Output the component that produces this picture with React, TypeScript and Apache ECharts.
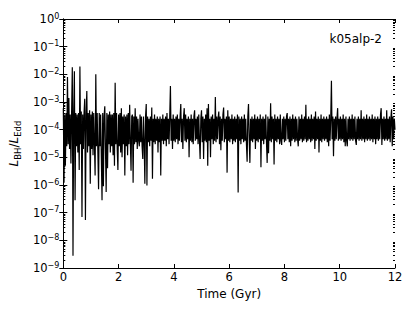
import React, { useEffect, useRef } from "react";
import * as echarts from "echarts";

// Sampling of the time series (Gyr)
const TIME_START_GYR = 0;
const TIME_STEP_GYR = 0.025;

// L_BH / L_Edd, one value every 0.025 Gyr
const RATIO_0_2 = [
  6e-4, 1.2e-6, 3.5e-4, 5e-6, 4e-4, 2.5e-5, 8e-3, 3e-5, 1.4e-3, 2e-5,
  3.5e-4, 6e-6, 4e-4, 1.8e-2, 2.8e-9, 3.5e-4, 1.3e-2, 2.8e-7, 4e-4, 2.5e-5,
  3.5e-4, 1.5e-5, 4e-4, 3.5e-6, 1.9e-2, 3e-5, 4.5e-4, 7e-8, 3.5e-4, 2e-5,
  4e-4, 1.3e-3, 5.4e-8, 3.5e-4, 2.5e-3, 1.5e-5, 4e-4, 2.5e-5, 5e-4, 1.1e-6,
  3.5e-4, 2e-5, 4.5e-4, 1.2e-5, 4e-4, 3e-5, 2.2e-6, 1e-2, 2.5e-5, 4e-4,
  1.5e-5, 7e-7, 4e-4, 2.5e-5, 3.5e-4, 1e-5, 2.8e-7, 4e-4, 9e-7, 3e-4,
  7e-4, 2e-5, 5.6e-7, 4e-4, 4e-6, 3.5e-4, 3e-5, 4.5e-4, 1.5e-5, 3.5e-4,
  2.5e-5, 3.5e-4, 1.2e-5, 4e-4, 5e-6, 5e-3, 3e-5, 4e-4, 2e-5, 3.5e-6,
];
const RATIO_2_4 = [
  3.5e-4, 2.5e-5, 4e-4, 1.5e-5, 6e-4, 1e-5, 3e-4, 3e-5, 3.5e-4, 2.2e-6,
  3e-4, 2.5e-5, 3.5e-4, 1.2e-5, 4e-4, 3e-5, 8e-4, 3.5e-5, 3.3e-6, 3e-4,
  3.5e-4, 1.2e-6, 3e-4, 3e-5, 6e-4, 3.5e-5, 3e-4, 2e-5, 2.5e-4, 4e-5,
  2.5e-5, 3.5e-4, 3.5e-5, 3e-4, 2.5e-5, 8.7e-6, 3e-4, 3.5e-5, 1.1e-6, 3e-4,
  8.5e-4, 9.5e-7, 3e-4, 3.5e-5, 2.5e-4, 2.5e-5, 3e-4, 4e-5, 6.3e-4, 1.7e-6,
  2.5e-4, 3.5e-5, 3.5e-4, 3e-5, 2.5e-4, 4e-5, 3e-4, 1.5e-5, 2.5e-4, 3.5e-5,
  3e-4, 2.2e-6, 2.5e-4, 4e-5, 3.5e-4, 3e-5, 2.5e-4, 4e-5, 3e-4, 2.5e-5,
  4e-4, 4.5e-5, 2.5e-4, 3e-5, 3e-4, 3.8e-3, 4e-5, 2.5e-4, 2e-5, 3.5e-4,
];
const RATIO_4_6 = [
  4e-5, 2.5e-4, 3.5e-5, 3e-4, 4.5e-5, 3.5e-4, 3e-5, 2.5e-4, 4e-5, 3e-4,
  8.5e-4, 3.5e-5, 2.5e-4, 2e-5, 3e-4, 6e-4, 4e-5, 3.5e-4, 3.5e-5, 2.5e-4,
  4.5e-5, 3e-4, 1e-5, 2.5e-4, 4e-5, 3.5e-4, 3.5e-5, 2.5e-4, 3e-5, 3e-4,
  5e-4, 4e-5, 2.5e-4, 4.5e-5, 3e-4, 3e-5, 3.5e-4, 4e-5, 8.7e-6, 2.5e-4,
  5e-4, 3.5e-5, 3e-4, 8.7e-6, 2.5e-4, 4e-5, 3.5e-4, 3.5e-5, 6e-4, 5e-6,
  8.5e-4, 4e-5, 2.5e-4, 1e-5, 3e-4, 4.5e-5, 3.5e-4, 3e-5, 2.5e-4, 4e-5,
  1.5e-3, 3.5e-5, 3e-4, 4.5e-5, 2.5e-4, 4.5e-4, 3e-5, 3e-4, 1.8e-5, 2.5e-4,
  4e-5, 3.5e-4, 6.3e-4, 3.5e-5, 2.5e-4, 4.5e-5, 3e-4, 2.8e-6, 5e-4, 4e-5,
];
const RATIO_6_8 = [
  3e-4, 3.5e-5, 2.5e-4, 4.5e-5, 3.5e-4, 3e-5, 2.5e-4, 4e-5, 3e-4, 3.5e-5,
  2.5e-4, 4.5e-5, 3.5e-4, 5.4e-7, 3e-4, 4e-5, 2.5e-4, 3e-5, 3e-4, 4.5e-5,
  2.5e-4, 3.5e-5, 3.5e-4, 4e-5, 2.5e-4, 3e-5, 7e-6, 3e-4, 8.5e-4, 4.5e-5,
  6.3e-6, 2.5e-4, 4e-5, 3e-4, 3.5e-5, 2.5e-4, 4.5e-5, 3.5e-4, 2e-5, 2.5e-4,
  4e-5, 3e-4, 3.5e-5, 2.5e-4, 4.5e-5, 3.5e-4, 4.4e-6, 2.5e-4, 4e-5, 3e-4,
  3e-5, 2.5e-4, 4.5e-5, 3.5e-4, 3.5e-5, 6.3e-6, 3e-4, 1.4e-5, 2.5e-4, 4e-5,
  9e-4, 3.5e-5, 3e-4, 4.5e-5, 2.5e-4, 5.5e-6, 3.5e-4, 4e-5, 2.5e-4, 3.5e-5,
  3e-4, 4.5e-5, 2.5e-4, 3e-5, 3.5e-4, 4e-5, 2.8e-5, 2.5e-4, 4.5e-5, 3e-4,
];
const RATIO_8_10 = [
  3.5e-5, 2.5e-4, 4e-5, 3e-4, 4e-4, 4.5e-5, 2.5e-4, 3.5e-5, 3e-4, 2.5e-5,
  2.5e-4, 4e-5, 3.5e-4, 4.5e-5, 2.5e-4, 3.5e-5, 3e-4, 4e-5, 2.5e-4, 4.5e-5,
  2.5e-5, 3e-4, 4e-5, 2.5e-4, 4.5e-5, 3.5e-4, 3.5e-5, 2.5e-4, 4e-5, 3e-4,
  4.5e-5, 8e-4, 3.5e-5, 2.5e-4, 4e-5, 3e-4, 4.5e-5, 2.5e-4, 3.5e-5, 3.5e-4,
  4e-5, 2.5e-4, 4.5e-5, 3e-4, 2e-5, 4.5e-4, 4e-5, 2.5e-4, 4.5e-5, 3e-4,
  1.5e-5, 2.5e-4, 4e-5, 3.5e-4, 3.5e-5, 2.5e-4, 4.5e-5, 3e-4, 4e-5, 2.5e-4,
  4.5e-5, 3e-4, 3.5e-5, 2.5e-4, 2.5e-5, 3.5e-4, 4e-5, 2.5e-4, 5.8e-3, 4.5e-5,
  3e-4, 1.1e-5, 2.5e-4, 4e-5, 3e-4, 4.5e-5, 2.5e-4, 6e-4, 4e-5, 2.5e-4,
];
const RATIO_10_12 = [
  4.5e-5, 3e-4, 4e-5, 2.5e-4, 4.5e-5, 3.5e-4, 3.5e-5, 2.5e-4, 2.5e-5, 3e-4,
  4e-5, 2.5e-5, 2.5e-4, 4.5e-5, 3e-4, 4e-5, 2.5e-4, 4.5e-5, 3.5e-4, 4e-5,
  2.5e-4, 4.5e-5, 3e-4, 4e-5, 2.8e-5, 2.5e-4, 4.5e-5, 3e-4, 4e-5, 2.5e-4,
  4.5e-5, 5e-4, 4e-5, 2.5e-4, 4.5e-5, 3e-4, 3.5e-5, 2.5e-4, 4.5e-5, 3.5e-4,
  4e-5, 2.5e-4, 4.5e-5, 3e-4, 4e-5, 2.5e-4, 4.5e-5, 3.5e-4, 3.5e-5, 2.5e-4,
  4.5e-5, 3e-4, 3e-5, 2.5e-4, 4.5e-5, 3e-4, 4e-5, 2.5e-4, 4.5e-5, 3.5e-4,
  6e-4, 2.8e-5, 2.5e-4, 4.5e-5, 3e-4, 4e-5, 2.5e-4, 4.5e-5, 5e-4, 4e-5,
  2.5e-4, 4.5e-5, 3e-4, 3.5e-5, 2.5e-4, 5.5e-4, 2.5e-5, 3e-4, 4.5e-5, 2.5e-4,
  1e-4,
];

const X_MIN = 0;
const X_MAX = 12;
const X_INTERVAL = 2;
const Y_MIN = 1e-9;
const Y_MAX = 1;
const MINOR_MANTISSAS = [2, 3, 4, 5, 6, 7, 8, 9];
const DECADE_EXPONENTS = [-9, -8, -7, -6, -5, -4, -3, -2, -1];
const RUN_LABEL = "k05alp-2";
const X_NAME = "Time (Gyr)";

const FONT = "DejaVu Sans";

export default function App() {
  const ref = useRef<HTMLDivElement>(null);

  useEffect(() => {
    if (!ref.current) return;
    const chart = echarts.init(ref.current, null, { renderer: "svg" });

    const ratios = [
      ...RATIO_0_2,
      ...RATIO_2_4,
      ...RATIO_4_6,
      ...RATIO_6_8,
      ...RATIO_8_10,
      ...RATIO_10_12,
    ];
    const lineData = ratios.map((v, i) => [TIME_START_GYR + i * TIME_STEP_GYR, v]);

    const minorTicks: number[][] = [];
    DECADE_EXPONENTS.forEach((e) => {
      MINOR_MANTISSAS.forEach((m) => {
        minorTicks.push([X_MIN, m * Math.pow(10, e)]);
      });
    });

    const yLabelFormatter = (v: number) => {
      const e = Math.round(Math.log10(v));
      const sup = e === 0 ? "0" : "\u2212" + String(-e);
      return `{b|10}{s|${sup}}`;
    };

    const axisLineStyle = { color: "#000", width: 1 };

    chart.setOption({
      animation: false,
      backgroundColor: "#fff",
      grid: { left: 62, right: 20, top: 19, bottom: 44, containLabel: false },
      xAxis: [
        {
          type: "value",
          min: X_MIN,
          max: X_MAX,
          interval: X_INTERVAL,
          position: "bottom",
          name: X_NAME,
          nameLocation: "middle",
          nameGap: 17,
          nameTextStyle: { fontFamily: FONT, fontSize: 12, color: "#000" },
          axisLine: { show: true, lineStyle: axisLineStyle },
          axisTick: { show: true, inside: true, length: 4, lineStyle: axisLineStyle },
          axisLabel: { fontFamily: FONT, fontSize: 11.5, color: "#000", margin: 3 },
          splitLine: { show: false },
        },
        {
          type: "value",
          min: X_MIN,
          max: X_MAX,
          interval: X_INTERVAL,
          position: "top",
          axisLine: { show: true, lineStyle: axisLineStyle },
          axisTick: { show: true, inside: true, length: 4, lineStyle: axisLineStyle },
          axisLabel: { show: false },
          splitLine: { show: false },
        },
      ],
      yAxis: [
        {
          type: "log",
          logBase: 10,
          min: Y_MIN,
          max: Y_MAX,
          splitNumber: 9,
          position: "left",
          name: "{i|L}{s|BH}{n|/}{i|L}{s|Edd}",
          nameLocation: "middle",
          nameRotate: 90,
          nameGap: 32,
          nameTextStyle: {
            color: "#000",
            rich: {
              i: { fontFamily: FONT, fontSize: 12, fontStyle: "italic", lineHeight: 16, color: "#000" },
              n: { fontFamily: FONT, fontSize: 12, lineHeight: 16, color: "#000" },
              s: { fontFamily: FONT, fontSize: 8.5, lineHeight: 8, verticalAlign: "bottom", color: "#000" },
            },
          },
          axisLine: { show: true, lineStyle: axisLineStyle },
          axisTick: { show: true, inside: true, length: 4, lineStyle: axisLineStyle },
          axisLabel: {
            formatter: yLabelFormatter,
            margin: 4,
            color: "#000",
            rich: {
              b: { fontFamily: FONT, fontSize: 11.5, lineHeight: 14, color: "#000" },
              s: { fontFamily: FONT, fontSize: 8, lineHeight: 6, verticalAlign: "top", color: "#000" },
            },
          },
          splitLine: { show: false },
        },
        {
          type: "log",
          logBase: 10,
          min: Y_MIN,
          max: Y_MAX,
          splitNumber: 9,
          position: "right",
          axisLine: { show: true, lineStyle: axisLineStyle },
          axisTick: { show: true, inside: true, length: 4, lineStyle: axisLineStyle },
          axisLabel: { show: false },
          splitLine: { show: false },
        },
      ],
      graphic: [
        {
          type: "text",
          right: 33,
          top: 33,
          style: {
            text: RUN_LABEL,
            font: `12px "${FONT}"`,
            fill: "#000",
          },
        },
      ],
      series: [
        {
          type: "line",
          xAxisIndex: 0,
          yAxisIndex: 0,
          data: lineData,
          showSymbol: false,
          symbol: "none",
          lineStyle: { color: "#000", width: 1.2 },
          silent: true,
          z: 2,
        },
        {
          type: "custom",
          xAxisIndex: 0,
          yAxisIndex: 0,
          data: minorTicks,
          silent: true,
          clip: false,
          z: 3,
          renderItem: (params: any, api: any) => {
            const v = api.value(1);
            const pL = api.coord([X_MIN, v]);
            const pR = api.coord([X_MAX, v]);
            const y = Math.round(pL[1]) + 0.5;
            return {
              type: "group",
              children: [
                {
                  type: "line",
                  shape: { x1: pL[0], y1: y, x2: pL[0] + 2, y2: y },
                  style: { stroke: "#000", lineWidth: 1 },
                },
                {
                  type: "line",
                  shape: { x1: pR[0] - 2, y1: y, x2: pR[0], y2: y },
                  style: { stroke: "#000", lineWidth: 1 },
                },
              ],
            };
          },
        },
      ],
    });

    return () => chart.dispose();
  }, []);

  return (
    <div
      ref={ref}
      style={{ position: "fixed", left: 0, top: 0, width: 415, height: 312, background: "#fff" }}
    />
  );
}
